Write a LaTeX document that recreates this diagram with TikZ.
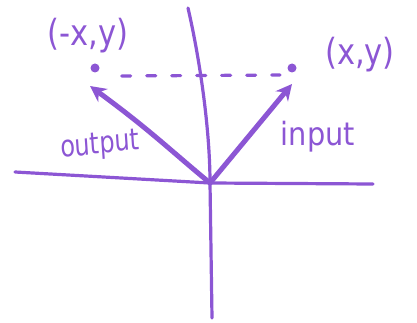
\documentclass[tikz,border=0pt]{standalone}
\usepackage{fontspec}
\setmainfont{DejaVu Sans}
\usetikzlibrary{arrows.meta}
\definecolor{pen}{RGB}{140,86,212}
\begin{document}
\begin{tikzpicture}[x=1pt,y=-1pt,
  pen/.style={draw=pen,line width=3.2pt,line cap=round,line join=round},
  vec/.style={pen,line width=5pt,-{Stealth[length=16pt,width=16pt]}},
  lbl/.style={text=pen,font=\fontsize{36}{38}\selectfont,inner sep=0pt}]
\useasboundingbox (0,0) rectangle (417,323);
\coordinate (o) at (210,183);
\coordinate (ytop) at (188,8);
\coordinate (ybot) at (212,318);
\coordinate (xl) at (15,172);
\coordinate (xr) at (373,184);
\draw[pen] (ytop) .. controls (200,60) and (210,130) .. (o) -- (ybot);
\draw[pen] (xl) -- (o) -- (xr);
\node[circle,fill=pen,inner sep=0pt,minimum size=9pt] (pin) at (292,68) {};
\node[circle,fill=pen,inner sep=0pt,minimum size=9pt] (pout) at (95,68) {};
\coordinate (ain) at (292,84);
\coordinate (aout) at (90,86);
\draw[vec] (o) -- (ain);
\draw[vec] (o) .. controls (170,150) and (150,130) .. (aout);
\draw[pen,dash pattern=on 9pt off 16pt] (pout.east) ++(22,8) -- (280,75);
\node[lbl,xscale=0.85] (lin) at (360,55) {(x,y)};
\node[lbl,xscale=0.85] (lout) at (88,36) {(-x,y)};
\node[lbl,font=\fontsize{30}{32}\selectfont,xscale=0.8,rotate=5] (tout) at (100,146) {output};
\node[lbl,font=\fontsize{32}{34}\selectfont,xscale=0.9] (tin) at (318,137) {input};
\end{tikzpicture}
\end{document}
